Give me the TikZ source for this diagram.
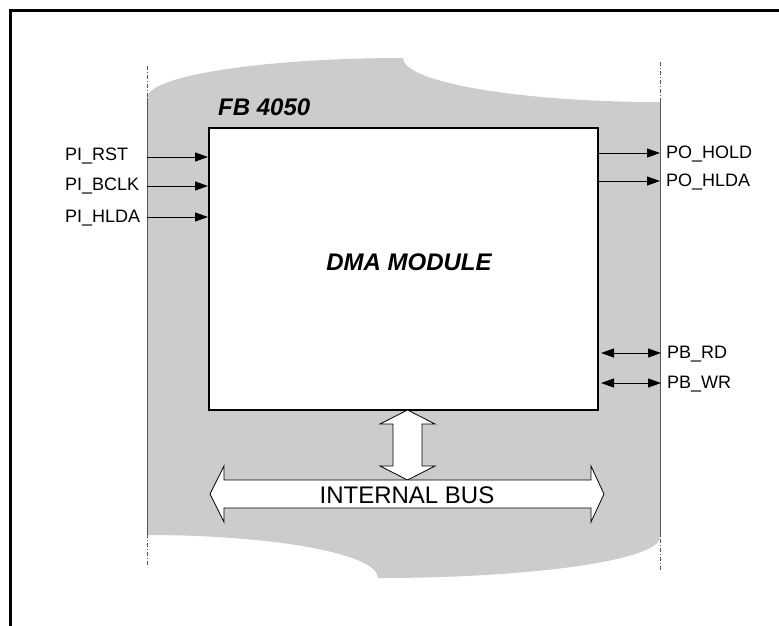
\documentclass[tikz,border=0pt]{standalone}
\usepackage{fontspec}
\setmainfont{Liberation Sans}
\usetikzlibrary{arrows.meta,calc}
\definecolor{fshade}{HTML}{CCCCCC}
\definecolor{fedge}{HTML}{555555}
\tikzset{
  block/.style   = {draw, line width=2pt, fill=white, rectangle, inner sep=0pt},
  sig/.style     = {-{Triangle[length=13pt,width=9pt]}, line width=1pt},
  bisig/.style   = {{Triangle[length=13pt,width=9pt]}-{Triangle[length=13pt,width=9pt]}, line width=1pt},
  pin/.style     = {font=\fontsize{18}{20}\selectfont, inner sep=0pt, anchor=west},
  title/.style   = {font=\fontsize{24}{28}\selectfont\bfseries\itshape, inner sep=0pt},
  hollow/.style  = {draw, line width=0.8pt, fill=white, line join=miter},
  rail/.style    = {line width=0.8pt, fedge, dash pattern=on 4pt off 2pt on 1pt off 2pt},
}

\begin{document}
\begin{tikzpicture}[x=1pt,y=-1pt]
\useasboundingbox (0,0) rectangle (779,625);
\clip (0,0) rectangle (779,625);
% outer frame
\draw[line width=3pt] (10,10) rectangle (800,650);
% shaded scroll behind the module
\fill[fshade] (147,98) .. controls (147,76) and (262,58) .. (403,58)
  .. controls (403,82) and (518,102) .. (660,102) -- (660,537)
  .. controls (660,560) and (534,578) .. (378,578)
  .. controls (378,554) and (275,535) .. (147,535) -- cycle;
\draw[rail] (147,66) -- (147,567);
\draw[rail] (660,62) -- (660,570);
\draw[line width=0.8pt,fedge] (147,98) -- (147,535);
\draw[line width=0.8pt,fedge] (660,102) -- (660,537);
% module
\node[block, minimum width=389pt, minimum height=282pt] (dma) at (403.5,269) {};
\node[title, anchor=west] (fb) at (218,107) {FB 4050};
\node[title] (dmaname) at (409,262) {DMA MODULE};
% inputs
\coordinate (rst) at (147,157);
\coordinate (bclk) at (147,186);
\coordinate (ihlda) at (147,217);
\draw[sig] (rst) -- (rst -| dma.west);
\draw[sig] (bclk) -- (bclk -| dma.west);
\draw[sig] (ihlda) -- (ihlda -| dma.west);
\node[pin] (rstlbl) at (65,156) {PI\_RST};
\node[pin] (bclklbl) at (65,186) {PI\_BCLK};
\node[pin] (ihldalbl) at (65,218) {PI\_HLDA};
% outputs
\coordinate (hold) at (660,153);
\coordinate (ohlda) at (660,181);
\draw[sig] (hold -| dma.east) -- (hold);
\draw[sig] (ohlda -| dma.east) -- (ohlda);
\node[pin] (holdlbl) at (666,154) {PO\_HOLD};
\node[pin] (ohldalbl) at (666,182) {PO\_HLDA};
% bidirectional
\coordinate (rd) at (661,353);
\coordinate (wr) at (661,383);
\draw[bisig] ($(rd -| dma.east)+(2,0)$) -- (rd);
\draw[bisig] ($(wr -| dma.east)+(2,0)$) -- (wr);
\node[pin] (rdlbl) at (667,354) {PB\_RD};
\node[pin] (wrlbl) at (667,384) {PB\_WR};
% internal bus
\draw[hollow] (407.5,410) -- (435,424) -- (422,424) -- (422,466) -- (435,466)
  -- (407.5,480) -- (380,466) -- (393,466) -- (393,424) -- (380,424) -- cycle;
\draw[hollow] (210,494) -- (224,466) -- (224,480) -- (591,480) -- (591,466)
  -- (604,494) -- (591,522) -- (591,508) -- (224,508) -- (224,522) -- cycle;
\node[font=\fontsize{24}{28}\selectfont, inner sep=0pt] (bus) at (407,495) {INTERNAL BUS};
\end{tikzpicture}
\end{document}
